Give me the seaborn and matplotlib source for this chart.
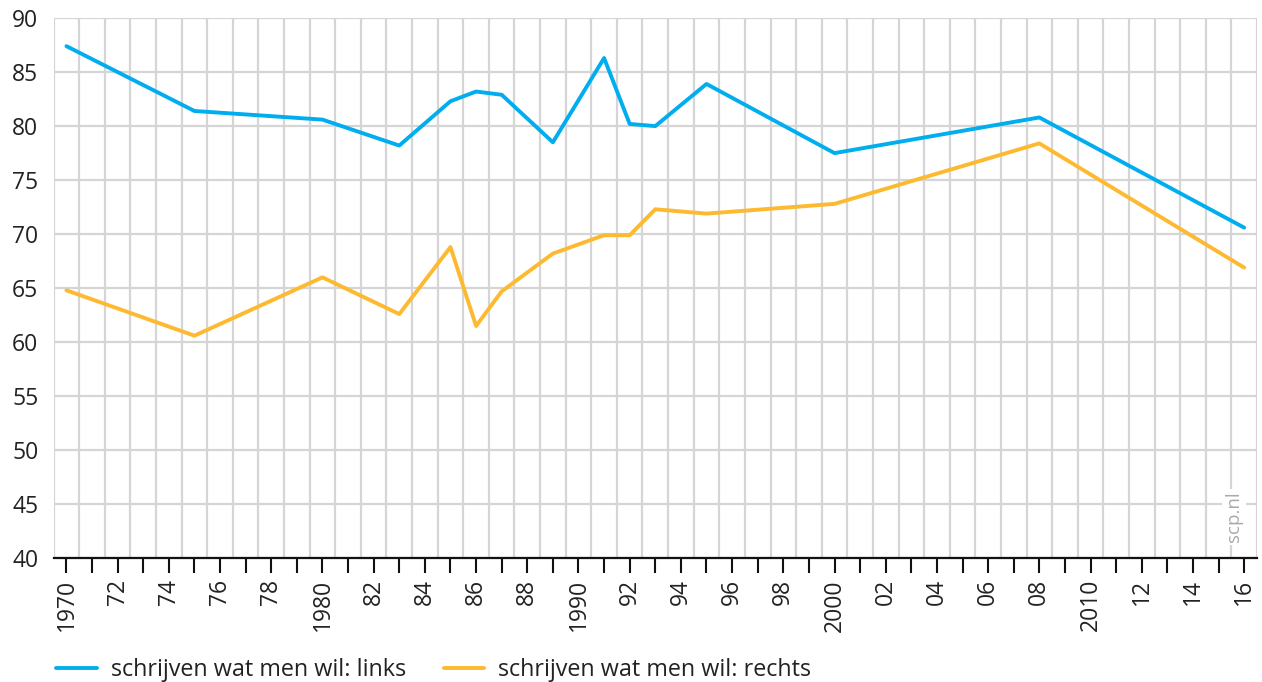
import numpy as np
import pandas as pd
import matplotlib
matplotlib.use('Agg')
import matplotlib.pyplot as plt
from matplotlib.ticker import FixedLocator
import seaborn as sns

# ── Data ─────────────────────────────────────────────────────────────────────
years  = [1970, 1975, 1980, 1983, 1985, 1986, 1987, 1989, 1991, 1992, 1993, 1995, 2000, 2008, 2016]
links  = [87.4, 81.4, 80.6, 78.2, 82.3, 83.2, 82.9, 78.5, 86.3, 80.2, 80.0, 83.9, 77.5, 80.8, 70.6]
rechts = [64.8, 60.6, 66.0, 62.6, 68.8, 61.5, 64.7, 68.2, 69.9, 69.9, 72.3, 71.9, 72.8, 78.4, 66.9]

LABEL_L = 'schrijven wat men wil: links'
LABEL_R = 'schrijven wat men wil: rechts'
BLUE = '#00aeef'; ORANGE = '#fdb92f'; GRID = '#d5d5d5'; TEXT = '#222222'

df = pd.DataFrame({
    'jaar': years * 2,
    'waarde': links + rechts,
    'reeks': [LABEL_L] * len(years) + [LABEL_R] * len(years),
})

sns.set_style('white')
plt.rcParams['font.family'] = ['Open Sans', 'DejaVu Sans']
plt.rcParams['text.color'] = TEXT

fig = plt.figure(figsize=(12.62, 6.82), dpi=100)
ax = fig.add_axes([0.0425, 0.1815, 0.9535, 0.792])

sns.lineplot(data=df, x='jaar', y='waarde', hue='reeks',
             palette={LABEL_L: BLUE, LABEL_R: ORANGE},
             linewidth=2.8, ax=ax, legend=False, zorder=3)

# axes
ax.set_xlim(1969.5, 2016.5)
ax.set_ylim(40, 90)
ax.set_xlabel(''); ax.set_ylabel('')

all_years = np.arange(1970, 2017)
ax.xaxis.set_major_locator(FixedLocator(all_years))
labels = []
for y in all_years:
    if y % 2:
        labels.append('')
    elif y % 10 == 0:
        labels.append(str(y))
    else:
        labels.append(f'{y % 100:02d}')
ax.set_xticklabels(labels, rotation=90, fontsize=16.5, color=TEXT)
ax.xaxis.set_minor_locator(FixedLocator(np.arange(1969.5, 2017, 1.0)))
ax.tick_params(axis='x', which='major', direction='out', length=11, width=1.5,
               color='#111111', pad=4, bottom=True)
ax.tick_params(axis='x', which='minor', length=0)

ax.set_yticks(np.arange(40, 91, 5))
ax.tick_params(axis='y', length=0, pad=11, labelsize=16.5, labelcolor=TEXT)

ax.grid(False)
ax.grid(True, axis='x', which='minor', color=GRID, linewidth=1.6, zorder=0)
ax.grid(True, axis='y', which='major', color=GRID, linewidth=1.6, zorder=0)
ax.set_axisbelow(True)

for s in ['left', 'top', 'right']:
    ax.spines[s].set_visible(False)
ax.spines['bottom'].set_color('#111111')
ax.spines['bottom'].set_linewidth(1.6)
ax.spines['bottom'].set_zorder(4)

# watermark
ax.text(2015.6, 43.8, 'scp.nl', rotation=90, ha='center', va='center',
        fontsize=13.5, color='#aaaaaa', zorder=2,
        bbox=dict(facecolor='white', edgecolor='none', pad=2))

# legend
handles = [plt.Line2D([], [], color=BLUE, lw=2.8),
           plt.Line2D([], [], color=ORANGE, lw=2.8)]
fig.legend(handles, [LABEL_L, LABEL_R], loc='lower left',
           bbox_to_anchor=(0.028, -0.031), ncol=2, frameon=False,
           fontsize=16.8, handlelength=1.75, handletextpad=0.6,
           columnspacing=1.6, labelcolor=TEXT)

fig.savefig('out.png', dpi=100, facecolor='white')
